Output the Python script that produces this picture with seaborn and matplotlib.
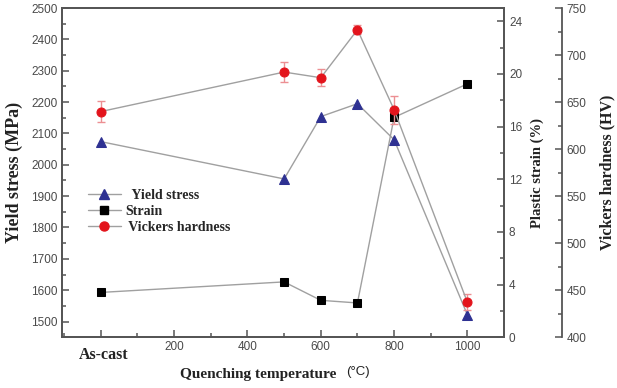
import numpy as np
import pandas as pd
import matplotlib.pyplot as plt
import seaborn as sns
import matplotlib.transforms as mtransforms
from matplotlib.lines import Line2D
from matplotlib.ticker import MultipleLocator

# values
temps = [0, 500, 600, 700, 800, 1000]
yield_stress = [2074, 1955, 2154, 2195, 2080, 1521]
strain = [3.4, 4.2, 2.8, 2.6, 16.7, 19.25]
hardness = [640, 682, 676, 727, 642, 437]
hardness_err = [11, 11, 9, 5, 15, 8.5]
xtick_vals = [0, 200, 400, 600, 800, 1000]
xtick_labels = ['As-cast', '200', '400', '600', '800', '1000']

df = pd.DataFrame({'T': temps, 'ys': yield_stress, 'strain': strain, 'hv': hardness})

sns.set_style('ticks')
plt.rcParams['font.family'] = ['Liberation Sans', 'DejaVu Sans']
serif = 'Liberation Serif'
spine_c = '#555555'
tick_c = '#4a4a4a'
line_c = '#a0a0a0'
blue = '#2e3192'
red = '#e3141c'

fig = plt.figure(figsize=(6.17, 3.88), dpi=100)
ax = fig.add_axes([0.101, 0.131, 0.716, 0.848])
ax2 = ax.twinx()
ax3 = ax.twinx()
ax3.spines['right'].set_position(('axes', 1.1306))

sns.lineplot(data=df, x='T', y='ys', ax=ax, color=line_c, lw=1.0, marker='^',
             markersize=6.5, markerfacecolor=blue, markeredgecolor=blue)
sns.lineplot(data=df, x='T', y='strain', ax=ax2, color=line_c, lw=1.0, marker='s',
             markersize=5.5, markerfacecolor='black', markeredgecolor='black')
ax3.errorbar(temps, hardness, yerr=hardness_err, fmt='none', ecolor='#ec8f93',
             elinewidth=1.0, capsize=3, capthick=1.0, zorder=2)
sns.lineplot(data=df, x='T', y='hv', ax=ax3, color=line_c, lw=1.0, marker='o',
             markersize=6.5, markerfacecolor=red, markeredgecolor=red, zorder=3)

ax.set_xlim(-105, 1100)
ax.set_ylim(1450, 2500)
ax2.set_ylim(0, 25)
ax3.set_ylim(400, 750)

ax.set_xticks(xtick_vals)
ax.set_xticklabels(xtick_labels)
ax.xaxis.set_minor_locator(MultipleLocator(100))
ax.set_yticks(np.arange(1500, 2501, 100))
ax.yaxis.set_minor_locator(MultipleLocator(50))
ax2.set_yticks(np.arange(0, 25, 4))
ax2.yaxis.set_minor_locator(MultipleLocator(2))
ax3.set_yticks(np.arange(400, 751, 50))
ax3.yaxis.set_minor_locator(MultipleLocator(25))

for a in (ax, ax2, ax3):
    for s in a.spines.values():
        s.set_color(spine_c)
        s.set_linewidth(1.3)
    a.tick_params(which='both', direction='in', colors=spine_c, labelcolor=tick_c,
                  labelsize=8.5, width=1.1)
    a.tick_params(which='major', length=5)
    a.tick_params(which='minor', length=3)
    a.set_xlabel('')
    a.set_ylabel('')
ax.tick_params(axis='y', which='both', right=False)
ax.tick_params(axis='x', pad=3)
ax2.spines['top'].set_visible(True)
ax3.spines['top'].set_visible(False)
ax3.spines['bottom'].set_visible(False)
ax3.spines['left'].set_visible(False)

lab0 = ax.get_xticklabels()[0]
lab0.set_fontfamily(serif)
lab0.set_fontweight('bold')
lab0.set_fontsize(11.5)
lab0.set_color('#222222')
lab0.set_transform(lab0.get_transform() +
                   mtransforms.ScaledTranslation(2 / 72, -4 / 72, fig.dpi_scale_trans))

ax.set_ylabel('Yield stress (MPa)', family=serif, fontweight='bold', fontsize=13,
              color='#222222', labelpad=6)
ax2.set_ylabel('Plastic strain (%)', family=serif, fontweight='bold', fontsize=10.5,
               color='#222222', labelpad=6)
ax3.set_ylabel('Vickers hardness (HV)', family=serif, fontweight='bold', fontsize=11.5,
               color='#222222', labelpad=9)
fig.text(0.418, 0.036, 'Quenching temperature', family=serif, fontweight='bold',
         fontsize=11, color='#222222', ha='center', va='center')
fig.text(0.58, 0.042, '(°C)', fontsize=9.5, color='#222222', ha='center', va='center')

handles = [
    Line2D([], [], color=line_c, lw=1.0, marker='^', markersize=6.5,
           markerfacecolor=blue, markeredgecolor=blue),
    Line2D([], [], color=line_c, lw=1.0, marker='s', markersize=5.5,
           markerfacecolor='black', markeredgecolor='black'),
    Line2D([], [], color=line_c, lw=1.0, marker='o', markersize=6.5,
           markerfacecolor=red, markeredgecolor=red),
]
labels = ['  Yield stress', 'Strain', ' Vickers hardness']
for a in (ax, ax2, ax3):
    if a.get_legend():
        a.get_legend().remove()
ax3.legend(handles, labels, loc='upper left', bbox_to_anchor=(0.035, 0.48),
           frameon=False, prop={'family': serif, 'weight': 'bold', 'size': 10},
           handlelength=2.4, handletextpad=0.3, labelspacing=0.2, borderpad=0.2)

fig.savefig('out.png', dpi=100)
